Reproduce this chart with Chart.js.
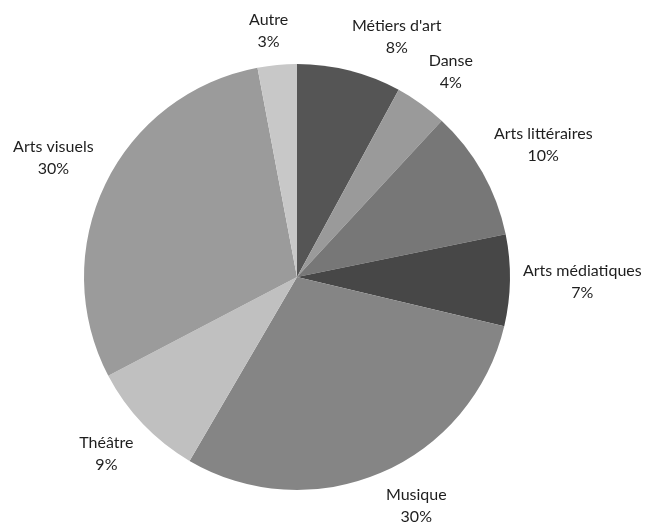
<!DOCTYPE html>
<html>
<head>
<meta charset="utf-8">
<script src="https://cdn.jsdelivr.net/npm/chart.js@4"></script>
<style>
  html, body { margin: 0; padding: 0; background: #fff; }
  #wrap { width: 652px; height: 529px; }
</style>
</head>
<body>
<div id="wrap"><canvas id="pie"></canvas></div>
<script>
// Data (clockwise from 12 o'clock)
const categories = ['Métiers d\'art', 'Danse', 'Arts littéraires', 'Arts médiatiques', 'Musique', 'Théâtre', 'Arts visuels', 'Autre'];
const shares = [8, 4, 10, 7, 30, 9, 30, 3];
const sliceColors = ['#555555', '#9a9a9a', '#777777', '#474747', '#858585', '#c0c0c0', '#9b9b9b', '#c8c8c8'];

const labelFont = "16px Lato, 'Open Sans', sans-serif";

// Outside-end labels: name on one line, percent below
const outsideLabels = {
  id: 'outsideLabels',
  afterDatasetsDraw(chart) {
    const ctx = chart.ctx;
    const meta = chart.getDatasetMeta(0);
    ctx.save();
    ctx.font = labelFont;
    ctx.fillStyle = '#1e1e1e';
    ctx.textAlign = 'center';
    ctx.textBaseline = 'middle';
    meta.data.forEach((arc, i) => {
      const p = arc.getProps(['x', 'y', 'startAngle', 'endAngle', 'outerRadius'], true);
      const mid = (p.startAngle + p.endAngle) / 2;
      const cos = Math.cos(mid), sin = Math.sin(mid);
      const r = p.outerRadius + 13;
      const ax = p.x + cos * r;
      const ay = p.y + sin * r;
      const line1 = categories[i];
      const line2 = shares[i] + '%';
      const w = Math.max(ctx.measureText(line1).width, ctx.measureText(line2).width);
      const h = 42;
      const dx = Math.max(-1, Math.min(1, cos * 4));
      const dy = Math.max(-1, Math.min(1, sin * 4));
      const cx = ax + dx * w / 2;
      const cy = ay + dy * h / 2;
      ctx.fillText(line1, cx, cy - 11);
      ctx.fillText(line2, cx, cy + 11);
    });
    ctx.restore();
  }
};

new Chart(document.getElementById('pie'), {
  type: 'pie',
  data: {
    labels: categories,
    datasets: [{
      data: shares,
      backgroundColor: sliceColors,
      borderWidth: 0
    }]
  },
  options: {
    responsive: true,
    maintainAspectRatio: false,
    animation: false,
    layout: { padding: { left: 84, right: 142, top: 64, bottom: 39 } },
    plugins: {
      legend: { display: false },
      tooltip: { enabled: false }
    }
  },
  plugins: [outsideLabels]
});
</script>
</body>
</html>
